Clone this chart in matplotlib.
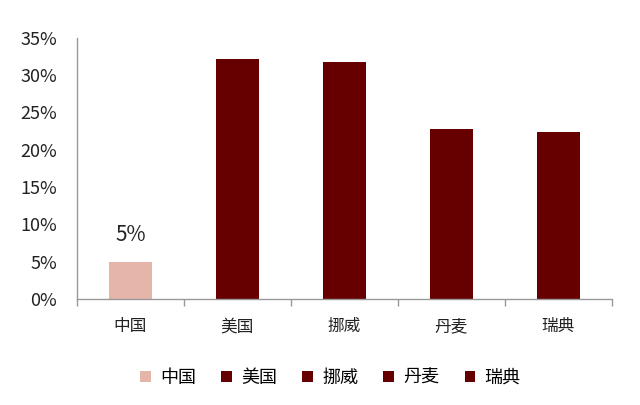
import numpy as np
import matplotlib.pyplot as plt
from matplotlib.patches import Patch

plt.rcParams['font.family'] = ['Noto Sans CJK SC', 'DejaVu Sans']

countries = ["中国", "美国", "挪威", "丹麦", "瑞典"]
shares = [5.0, 32.2, 31.7, 22.7, 22.4]
yticks = [0, 5, 10, 15, 20, 25, 30, 35]

light = "#e6b5aa"
dark = "#660000"
colors = [light, dark, dark, dark, dark]

fig = plt.figure(figsize=(6.4, 4.05), dpi=100)
ax = fig.add_axes([0.12, 0.262, 0.836, 0.645])

x = np.arange(len(countries))
ax.bar(x, shares, width=0.4, color=colors)

ax.set_xlim(-0.5, len(countries) - 0.5)
ax.set_ylim(0, 35)
ax.set_yticks(yticks)
ax.set_yticklabels([f"{v}%" for v in yticks], fontsize=13, color="#222222")
ax.tick_params(axis="y", length=0, pad=14)

ax.set_xticks(x)
ax.set_xticklabels(countries, fontsize=12, color="#222222")
ax.tick_params(axis="x", length=0, pad=14)
# tick marks between categories
ax.set_xticks(np.arange(-0.5, len(countries)), minor=True)
ax.tick_params(axis="x", which="minor", length=5, color="#999999", width=1)

for s in ["top", "right"]:
    ax.spines[s].set_visible(False)
for s in ["left", "bottom"]:
    ax.spines[s].set_color("#999999")
    ax.spines[s].set_linewidth(1)

ax.annotate(f"{shares[0]:.0f}%", (x[0], shares[0]), xytext=(0, 11),
            textcoords="offset points", ha="center", va="bottom",
            fontsize=15, color="#222222")

handles = [Patch(facecolor=c, label=n) for c, n in zip(colors, countries)]
fig.legend(handles=handles, loc="center", bbox_to_anchor=(0.516, 0.067),
           ncol=5, frameon=False, fontsize=13, handlelength=0.6,
           handleheight=0.6, handletextpad=0.5, columnspacing=1.4)

fig.savefig("out.png", dpi=100)
